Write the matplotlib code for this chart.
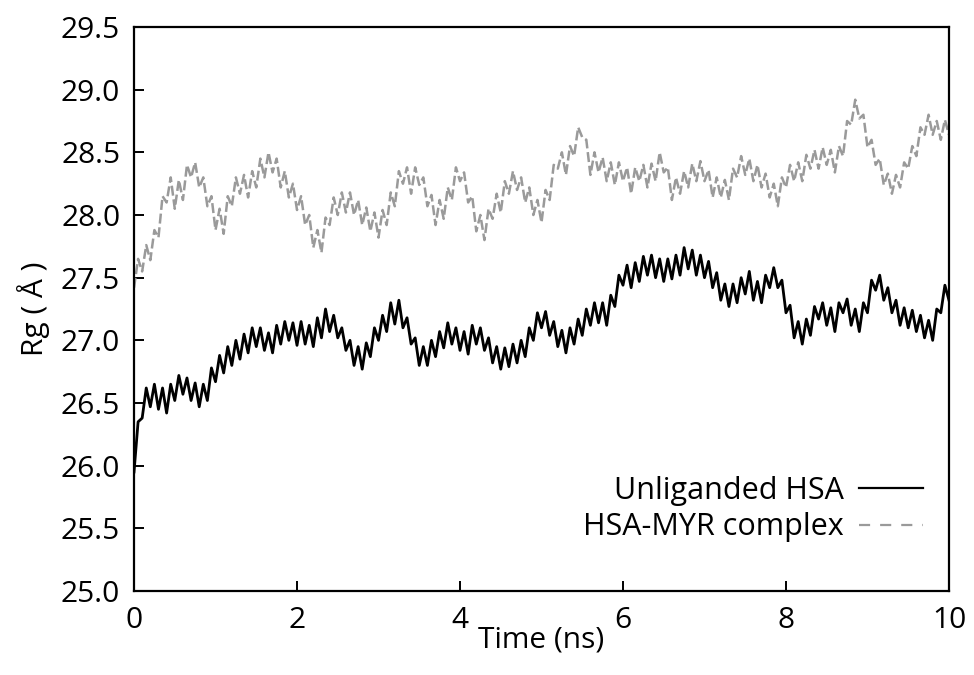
import matplotlib
matplotlib.use("Agg")
import matplotlib.pyplot as plt
from matplotlib.lines import Line2D

plt.rcParams['font.family'] = ['Open Sans', 'DejaVu Sans']

# time axis (ns), sampled every 0.05 ns
time_ns = [round(i * 0.05, 2) for i in range(201)]

unliganded_hsa = [
    25.95, 26.35, 26.38, 26.62, 26.47, 26.65, 26.45, 26.62, 26.42, 26.65,
    26.52, 26.72, 26.57, 26.70, 26.52, 26.66, 26.47, 26.65, 26.52, 26.78,
    26.67, 26.88, 26.74, 26.95, 26.80, 27.00, 26.85, 27.05, 26.90, 27.10,
    26.95, 27.10, 26.92, 27.06, 26.90, 27.12, 26.97, 27.15, 27.00, 27.14,
    26.96, 27.15, 26.97, 27.12, 26.95, 27.18, 27.02, 27.25, 27.07, 27.20,
    27.02, 27.10, 26.92, 27.00, 26.80, 26.95, 26.77, 26.98, 26.87, 27.10,
    27.00, 27.20, 27.07, 27.30, 27.13, 27.32, 27.10, 27.18, 26.97, 27.02,
    26.80, 26.95, 26.80, 27.00, 26.87, 27.07, 26.94, 27.14, 26.97, 27.10,
    26.92, 27.07, 26.89, 27.12, 26.97, 27.10, 26.92, 27.02, 26.82, 26.95,
    26.77, 26.94, 26.79, 26.97, 26.82, 27.00, 26.87, 27.10, 27.00, 27.22,
    27.10, 27.23, 27.04, 27.15, 26.95, 27.08, 26.90, 27.10, 26.97, 27.17,
    27.04, 27.25, 27.12, 27.30, 27.14, 27.30, 27.12, 27.36, 27.27, 27.52,
    27.44, 27.60, 27.42, 27.62, 27.47, 27.67, 27.52, 27.68, 27.50, 27.65,
    27.47, 27.65, 27.49, 27.68, 27.52, 27.74, 27.57, 27.72, 27.52, 27.68,
    27.50, 27.63, 27.42, 27.54, 27.32, 27.45, 27.27, 27.45, 27.30, 27.50,
    27.37, 27.55, 27.32, 27.47, 27.30, 27.52, 27.42, 27.58, 27.42, 27.48,
    27.22, 27.28, 27.02, 27.15, 26.97, 27.17, 27.04, 27.27, 27.17, 27.30,
    27.12, 27.26, 27.07, 27.30, 27.22, 27.33, 27.12, 27.25, 27.07, 27.30,
    27.22, 27.48, 27.40, 27.52, 27.32, 27.42, 27.22, 27.32, 27.12, 27.26,
    27.10, 27.24, 27.07, 27.20, 27.02, 27.16, 27.00, 27.25, 27.22, 27.44,
    27.32,
]

hsa_myr_complex = [
    27.42, 27.65, 27.55, 27.76, 27.64, 27.88, 27.82, 28.15, 28.10, 28.30,
    28.05, 28.28, 28.12, 28.40, 28.30, 28.42, 28.22, 28.30, 28.07, 28.15,
    27.88, 28.05, 27.85, 28.15, 28.07, 28.30, 28.17, 28.32, 28.14, 28.35,
    28.22, 28.45, 28.30, 28.50, 28.34, 28.45, 28.22, 28.35, 28.14, 28.25,
    28.04, 28.15, 27.92, 28.00, 27.74, 27.88, 27.70, 27.98, 27.92, 28.14,
    28.00, 28.18, 28.02, 28.18, 28.00, 28.12, 27.92, 28.06, 27.87, 28.02,
    27.82, 28.04, 27.92, 28.18, 28.07, 28.35, 28.25, 28.38, 28.17, 28.38,
    28.24, 28.30, 28.07, 28.16, 27.92, 28.12, 27.97, 28.22, 28.12, 28.38,
    28.27, 28.34, 28.10, 28.15, 27.87, 28.00, 27.80, 28.05, 27.97, 28.17,
    28.02, 28.27, 28.17, 28.35, 28.20, 28.30, 28.10, 28.22, 28.00, 28.12,
    27.94, 28.20, 28.12, 28.40, 28.37, 28.50, 28.32, 28.55, 28.47, 28.70,
    28.62, 28.60, 28.32, 28.50, 28.34, 28.46, 28.27, 28.42, 28.24, 28.42,
    28.27, 28.38, 28.17, 28.38, 28.27, 28.40, 28.22, 28.41, 28.27, 28.50,
    28.34, 28.38, 28.12, 28.30, 28.17, 28.35, 28.22, 28.41, 28.27, 28.43,
    28.27, 28.36, 28.14, 28.30, 28.14, 28.28, 28.12, 28.37, 28.30, 28.47,
    28.32, 28.45, 28.27, 28.40, 28.22, 28.33, 28.14, 28.25, 28.07, 28.30,
    28.22, 28.40, 28.27, 28.42, 28.27, 28.48, 28.37, 28.52, 28.37, 28.54,
    28.40, 28.52, 28.34, 28.55, 28.47, 28.75, 28.72, 28.92, 28.77, 28.80,
    28.54, 28.60, 28.40, 28.45, 28.24, 28.33, 28.17, 28.32, 28.22, 28.42,
    28.37, 28.55, 28.47, 28.70, 28.64, 28.80, 28.64, 28.75, 28.60, 28.76,
    28.64,
]

x_ticks = [0, 2, 4, 6, 8, 10]
y_ticks = [25.0, 25.5, 26.0, 26.5, 27.0, 27.5, 28.0, 28.5, 29.0, 29.5]
series_labels = ["Unliganded HSA", "HSA-MYR complex"]

black = 'black'
gray = '#9a9a9a'

fig = plt.figure(figsize=(9.74, 6.75), dpi=100)
ax = fig.add_axes([0.1376, 0.1244, 0.9743 - 0.1376, 0.96 - 0.1244])

ax.plot(time_ns, unliganded_hsa, color=black, lw=2.0)
ax.plot(time_ns, hsa_myr_complex, color=gray, lw=1.8, linestyle=(0, (4, 1.5)))

ax.set_xlim(0, 10)
ax.set_ylim(25.0, 29.5)
ax.set_xticks(x_ticks)
ax.set_xticklabels([str(t) for t in x_ticks])
ax.set_yticks(y_ticks)
ax.set_yticklabels([f"{v:.1f}" for v in y_ticks])

for s in ax.spines.values():
    s.set_linewidth(1.6)
ax.tick_params(direction='in', length=7, width=1.4, labelsize=21.5,
               top=False, right=False)
ax.tick_params(axis='y', pad=10)
ax.tick_params(axis='x', pad=11)
ax.set_xlabel("Time (ns)", fontsize=21.5, labelpad=-7)
ax.set_ylabel("Rg ( Å )", fontsize=21.5, labelpad=8)

handles = [Line2D([], [], color=black, lw=1.6),
           Line2D([], [], color=gray, lw=1.6, linestyle=(0, (5, 4.5)))]
leg = ax.legend(handles, series_labels, loc='center right',
                bbox_to_anchor=(0.968, 0.145), frameon=False,
                markerfirst=False, fontsize=22, handlelength=2.1,
                handletextpad=0.5, labelspacing=0.2,
                borderaxespad=0, borderpad=0)

fig.savefig("out.png", dpi=100)
